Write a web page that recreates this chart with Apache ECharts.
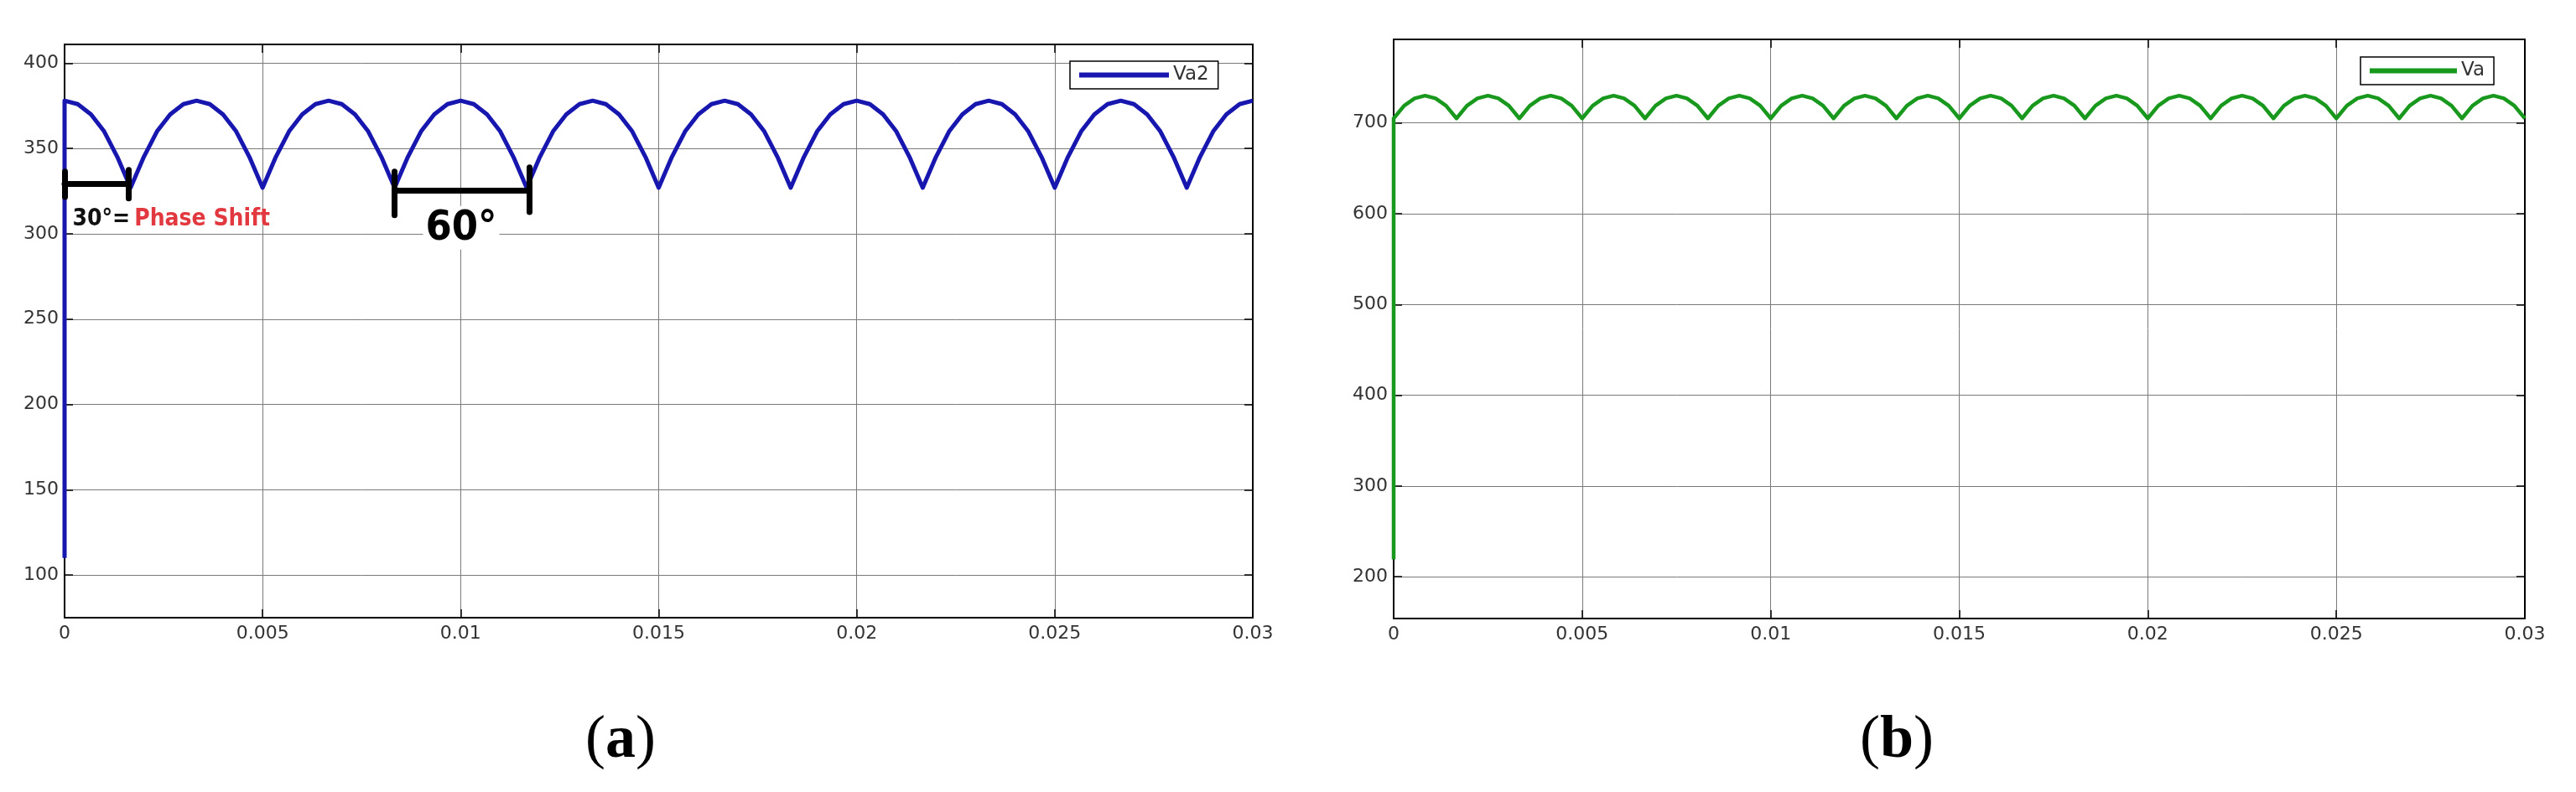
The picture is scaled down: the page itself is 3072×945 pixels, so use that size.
<!DOCTYPE html>
<html>
<head>
<meta charset="utf-8">
<script src="https://cdn.jsdelivr.net/npm/echarts@6/dist/echarts.min.js"></script>
<style>
  html, body { margin: 0; padding: 0; background: #fff; }
  #chart { width: 3072px; height: 945px; }
</style>
</head>
<body>
<div id="chart"></div>
<script>
// ---- data (time in ms; axis labels shown in seconds) ----
const xTickLabels = ['0', '0.005', '0.01', '0.015', '0.02', '0.025', '0.03'];
const xTicksMs = [0, 5, 10, 15, 20, 25, 30];
const va2YTicks = [100, 150, 200, 250, 300, 350, 400];
const vaYTicks = [200, 300, 400, 500, 600, 700];

// (a) Va2
const va2Time = [0, 0, 0.333, 0.667, 1, 1.333, 1.667, 2, 2.333, 2.667, 3, 3.333, 3.667, 4, 4.333, 4.667, 5,
  5.333, 5.667, 6, 6.333, 6.667, 7, 7.333, 7.667, 8, 8.333, 8.667, 9, 9.333, 9.667, 10,
  10.333, 10.667, 11, 11.333, 11.667, 12, 12.333, 12.667, 13, 13.333, 13.667, 14, 14.333, 14.667, 15,
  15.333, 15.667, 16, 16.333, 16.667, 17, 17.333, 17.667, 18, 18.333, 18.667, 19, 19.333, 19.667, 20,
  20.333, 20.667, 21, 21.333, 21.667, 22, 22.333, 22.667, 23, 23.333, 23.667, 24, 24.333, 24.667, 25,
  25.333, 25.667, 26, 26.333, 26.667, 27, 27.333, 27.667, 28, 28.333, 28.667, 29, 29.333, 29.667, 30];
const va2Values = [110, 378,
  376, 370, 360, 345, 327, 345, 360, 370, 376, 378, 376, 370, 360, 345, 327,
  345, 360, 370, 376, 378, 376, 370, 360, 345, 327, 345, 360, 370, 376, 378,
  376, 370, 360, 345, 327, 345, 360, 370, 376, 378, 376, 370, 360, 345, 327,
  345, 360, 370, 376, 378, 376, 370, 360, 345, 327, 345, 360, 370, 376, 378,
  376, 370, 360, 345, 327, 345, 360, 370, 376, 378, 376, 370, 360, 345, 327,
  345, 360, 370, 376, 378, 376, 370, 360, 345, 327, 345, 360, 370, 376, 378];

// (b) Va
const vaTime = [0, 0, 0.278, 0.556, 0.833, 1.111, 1.389, 1.667, 1.944, 2.222, 2.5, 2.778, 3.056, 3.333, 3.611, 3.889, 4.167, 4.444, 4.722, 5,
  5.278, 5.556, 5.833, 6.111, 6.389, 6.667, 6.944, 7.222, 7.5, 7.778, 8.056, 8.333, 8.611, 8.889, 9.167, 9.444, 9.722, 10,
  10.278, 10.556, 10.833, 11.111, 11.389, 11.667, 11.944, 12.222, 12.5, 12.778, 13.056, 13.333, 13.611, 13.889, 14.167, 14.444, 14.722, 15,
  15.278, 15.556, 15.833, 16.111, 16.389, 16.667, 16.944, 17.222, 17.5, 17.778, 18.056, 18.333, 18.611, 18.889, 19.167, 19.444, 19.722, 20,
  20.278, 20.556, 20.833, 21.111, 21.389, 21.667, 21.944, 22.222, 22.5, 22.778, 23.056, 23.333, 23.611, 23.889, 24.167, 24.444, 24.722, 25,
  25.278, 25.556, 25.833, 26.111, 26.389, 26.667, 26.944, 27.222, 27.5, 27.778, 28.056, 28.333, 28.611, 28.889, 29.167, 29.444, 29.722, 30];
const vaValues = [219, 705,
  719, 727, 730, 727, 719, 705, 719, 727, 730, 727, 719, 705, 719, 727, 730, 727, 719, 705,
  719, 727, 730, 727, 719, 705, 719, 727, 730, 727, 719, 705, 719, 727, 730, 727, 719, 705,
  719, 727, 730, 727, 719, 705, 719, 727, 730, 727, 719, 705, 719, 727, 730, 727, 719, 705,
  719, 727, 730, 727, 719, 705, 719, 727, 730, 727, 719, 705, 719, 727, 730, 727, 719, 705,
  719, 727, 730, 727, 719, 705, 719, 727, 730, 727, 719, 705, 719, 727, 730, 727, 719, 705,
  719, 727, 730, 727, 719, 705, 719, 727, 730, 727, 719, 705, 719, 727, 730, 727, 719, 705];

// ---- chart ----
const labelFont = 'DejaVu Sans';
const labelColor = '#333';
const gridColor = '#7a7a7a';

function pairs(xs, ys) { return xs.map((x, i) => [x, ys[i]]); }
function xLabel(v) { const i = xTicksMs.indexOf(v); return i >= 0 ? xTickLabels[i] : ''; }

function mainX(gridIndex) {
  return {
    gridIndex, type: 'value', min: 0, max: 30, interval: 5, position: 'bottom',
    axisLine: { show: true, onZero: false, lineStyle: { color: '#000', width: 2 } },
    axisTick: { show: true, inside: true, length: 10, lineStyle: { color: '#000', width: 1.5 } },
    axisLabel: { show: true, margin: 8, formatter: xLabel, color: labelColor, fontFamily: labelFont, fontSize: 22 },
    splitLine: { show: true, lineStyle: { color: gridColor, width: 1 } }
  };
}
function mirrorX(gridIndex) {
  return {
    gridIndex, type: 'value', min: 0, max: 30, interval: 5, position: 'top',
    axisLine: { show: true, onZero: false, lineStyle: { color: '#000', width: 2 } },
    axisTick: { show: true, inside: true, length: 10, lineStyle: { color: '#000', width: 1.5 } },
    axisLabel: { show: false }, splitLine: { show: false }
  };
}
function mainY(gridIndex, min, max, ticks) {
  return {
    gridIndex, type: 'value', min, max, position: 'left',
    axisLine: { show: true, onZero: false, lineStyle: { color: '#000', width: 2 } },
    axisTick: { show: true, inside: true, length: 10, customValues: ticks, lineStyle: { color: '#000', width: 1.5 } },
    axisLabel: { show: true, margin: 7, customValues: ticks, color: labelColor, fontFamily: labelFont, fontSize: 22 },
    splitLine: { show: true, lineStyle: { color: gridColor, width: 1 } }
  };
}
function mirrorY(gridIndex, min, max, ticks) {
  return {
    gridIndex, type: 'value', min, max, position: 'right',
    axisLine: { show: true, onZero: false, lineStyle: { color: '#000', width: 2 } },
    axisTick: { show: true, inside: true, length: 10, customValues: ticks, lineStyle: { color: '#000', width: 1.5 } },
    axisLabel: { show: false }, splitLine: { show: false }
  };
}

const annFont = '"DejaVu Sans Condensed", "Liberation Sans Narrow", "DejaVu Sans", sans-serif';

const chart = echarts.init(document.getElementById('chart'), null, { renderer: 'canvas' });
chart.setOption({
  animation: false,
  backgroundColor: '#fff',
  grid: [
    { left: 77, top: 53, width: 1417, height: 684 },
    { left: 1662, top: 47, width: 1349, height: 691 }
  ],
  xAxis: [mainX(0), mainX(1), mirrorX(0), mirrorX(1)],
  yAxis: [
    mainY(0, 75, 411, va2YTicks),
    mainY(1, 154, 792, vaYTicks),
    mirrorY(0, 75, 411, va2YTicks),
    mirrorY(1, 154, 792, vaYTicks)
  ],
  legend: [
    {
      data: ['Va2'], left: 1276, top: 73, orient: 'horizontal',
      icon: 'rect', itemWidth: 107, itemHeight: 6, itemGap: 0,
      padding: [5, 11, 5, 11], borderColor: '#000', borderWidth: 1.5, backgroundColor: '#fff',
      selectedMode: false,
      textStyle: { fontFamily: labelFont, fontSize: 23, color: labelColor, width: 50 }
    },
    {
      data: ['Va'], left: 2815, top: 68, orient: 'horizontal',
      icon: 'rect', itemWidth: 104, itemHeight: 6, itemGap: 0,
      padding: [5, 11, 5, 11], borderColor: '#000', borderWidth: 1.5, backgroundColor: '#fff',
      selectedMode: false,
      textStyle: { fontFamily: labelFont, fontSize: 23, color: labelColor, width: 34 }
    }
  ],
  series: [
    {
      name: 'Va2', type: 'line', xAxisIndex: 0, yAxisIndex: 0,
      data: pairs(va2Time, va2Values), showSymbol: false, clip: false,
      lineStyle: { color: '#1717b0', width: 5, join: 'round' },
      itemStyle: { color: '#1717b0' },
      emphasis: { disabled: true },
      markLine: {
        silent: true, symbol: ['none', 'none'], animation: false,
        label: { show: false },
        emphasis: { disabled: true },
        lineStyle: { color: '#000', width: 7, type: 'solid', cap: 'round' },
        data: [
          [{ coord: [0, 336.4] }, { coord: [0, 321.6] }],
          [{ coord: [0, 329.1] }, { coord: [1.61, 329.1] }],
          [{ coord: [1.61, 337.4] }, { coord: [1.61, 320.7] }],
          [{ coord: [8.33, 336.4] }, { coord: [8.33, 310.9] }],
          [{ coord: [8.33, 325.3] }, { coord: [11.74, 325.3] }],
          [{ coord: [11.74, 338.9] }, { coord: [11.74, 312.8] }]
        ]
      },
      markPoint: {
        silent: true, symbol: 'circle', symbolSize: 0, animation: false,
        itemStyle: { color: 'rgba(0,0,0,0)' },
        data: [
          {
            coord: [0.2, 308.6],
            label: {
              show: true, position: 'right', distance: 0,
              formatter: '{k|30°=}{r|Phase Shift}',
              rich: {
                k: { color: '#111', fontFamily: annFont, fontWeight: 'bold', fontSize: 28 },
                r: { color: '#e2383f', fontFamily: annFont, fontWeight: 'bold', fontSize: 28, padding: [0, 0, 0, 5] }
              }
            }
          },
          {
            coord: [9.05, 303.5],
            label: {
              show: true, position: 'right', distance: 0,
              formatter: '{n|60°}',
              backgroundColor: '#fff', padding: [2, 3, 0, 3],
              rich: {
                n: { color: '#000', fontFamily: annFont, fontWeight: 'bold', fontSize: 50 }
              }
            }
          }
        ]
      }
    },
    {
      name: 'Va', type: 'line', xAxisIndex: 1, yAxisIndex: 1,
      data: pairs(vaTime, vaValues), showSymbol: false, clip: false,
      lineStyle: { color: '#18981c', width: 4.5, join: 'round' },
      itemStyle: { color: '#18981c' },
      emphasis: { disabled: true }
    }
  ],
  graphic: [
    {
      type: 'text', x: 740, y: 884, silent: true,
      style: {
        text: '{p|(}{b|a}{p|)}', align: 'center', verticalAlign: 'middle',
        rich: {
          p: { fontFamily: 'Liberation Serif', fontSize: 72, fill: '#000' },
          b: { fontFamily: 'Liberation Serif', fontSize: 72, fontWeight: 'bold', fill: '#000' }
        }
      }
    },
    {
      type: 'text', x: 2262, y: 884, silent: true,
      style: {
        text: '{p|(}{b|b}{p|)}', align: 'center', verticalAlign: 'middle',
        rich: {
          p: { fontFamily: 'Liberation Serif', fontSize: 72, fill: '#000' },
          b: { fontFamily: 'Liberation Serif', fontSize: 72, fontWeight: 'bold', fill: '#000' }
        }
      }
    }
  ]
});
</script>
</body>
</html>
